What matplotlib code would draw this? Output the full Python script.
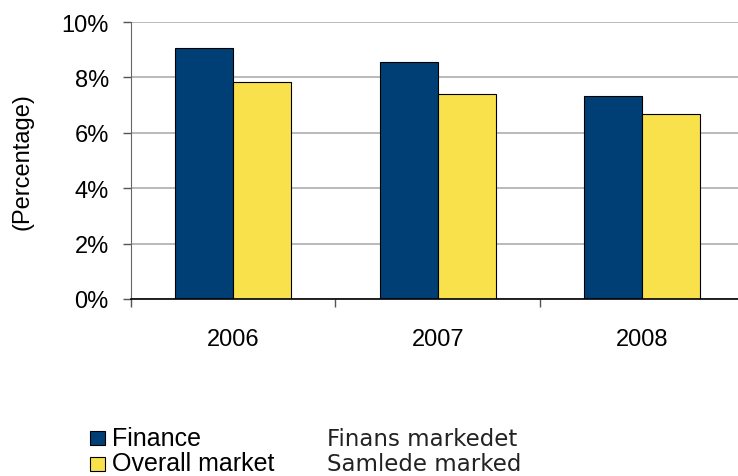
import numpy as np
import matplotlib.pyplot as plt
from matplotlib.patches import Rectangle
from matplotlib.ticker import FixedLocator, PercentFormatter

plt.rcParams['font.family'] = ['Liberation Sans', 'DejaVu Sans']

years = ['2006', '2007', '2008']
finance = [9.06, 8.56, 7.33]
overall = [7.83, 7.40, 6.68]
labels_en = ['Finance', 'Overall market']
labels_no = ['Finans markedet', 'Samlede marked']

navy = '#003F75'
yellow = '#F9E14B'

fig = plt.figure(figsize=(7.38, 4.77), dpi=100)
W, H = 738, 477
ax_w = 744.5 - 131
ax = fig.add_axes([131 / W, 1 - 300 / H, ax_w / W, (300 - 23) / H])

x = np.arange(len(years))
w = 0.283
b1 = ax.bar(x - w / 2, finance, w, color=navy, edgecolor='black', linewidth=0.8, zorder=3)
b2 = ax.bar(x + w / 2, overall, w, color=yellow, edgecolor='black', linewidth=0.8, zorder=3)

ax.set_xlim(-0.5, 2.5)
ax.set_ylim(0, 10)
ax.set_yticks(np.arange(0, 11, 2))
ax.yaxis.set_major_formatter(PercentFormatter(decimals=0))
ax.set_xticks(x)
ax.set_xticklabels(years)
ax.xaxis.set_minor_locator(FixedLocator([-0.5, 0.5, 1.5, 2.5]))
ax.tick_params(axis='x', which='major', length=0, pad=21, labelsize=17)
ax.tick_params(axis='x', which='minor', length=6, width=1, color='#555555')
ax.tick_params(axis='y', length=6, width=1, color='#555555', labelsize=17, pad=10)

ax.grid(axis='y', color='#B4B4B4', linewidth=1.3, zorder=0)
for s in ['top', 'right']:
    ax.spines[s].set_visible(False)
ax.spines['left'].set_color('#666666')
ax.spines['bottom'].set_color('black')
ax.spines['bottom'].set_linewidth(1.2)
ax.spines['bottom'].set_zorder(4)

ax.set_ylabel('(Percentage)', fontsize=17)
ax.yaxis.set_label_coords((33 - 131) / ax_w, 0.5)

# legend drawn by hand: square, english label, norwegian label
for i, (c, en, no) in enumerate(zip([navy, yellow], labels_en, labels_no)):
    sq_top = 432 + i * 26
    base = 446 + i * 25
    fig.add_artist(Rectangle((90 / W, 1 - (sq_top + 14) / H), 15 / W, 14 / H,
                             transform=fig.transFigure, facecolor=c,
                             edgecolor='black', linewidth=0.8))
    fig.text(112 / W, 1 - base / H, en, fontsize=18, va='baseline')
    fig.text(327 / W, 1 - base / H, no, fontsize=16.5, va='baseline',
             family=['DejaVu Sans'], color='#222222')

fig.savefig('out.png', dpi=100)
